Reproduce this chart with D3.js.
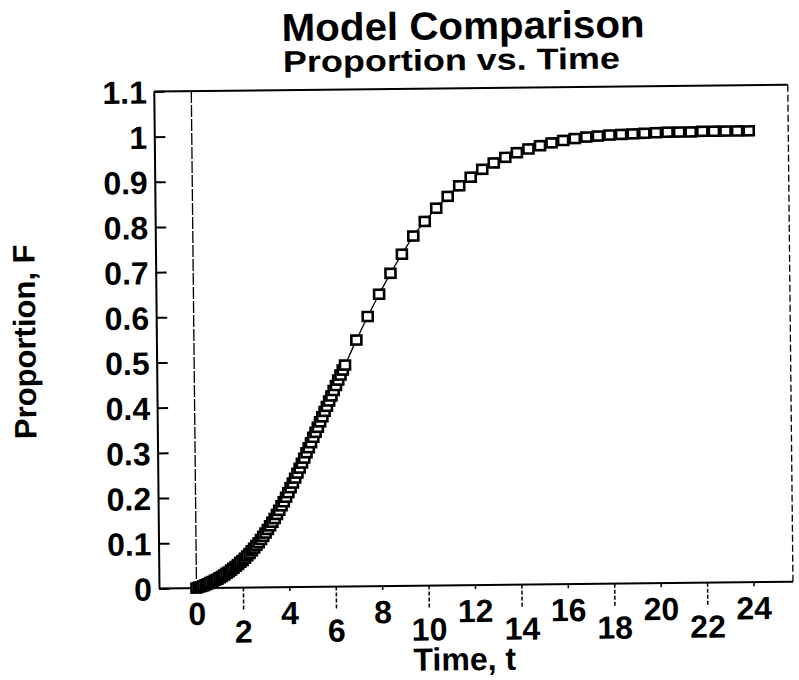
<!DOCTYPE html>
<html>
<head>
<meta charset="utf-8">
<script src="https://cdn.jsdelivr.net/npm/d3@7"></script>
<style>
  body { margin: 0; background: #fff; }
  text { font-family: "Liberation Sans", Arial, sans-serif; font-weight: bold; fill: #000; }
</style>
</head>
<body>
<div id="chart"></div>
<script>
// values
var denseTimes = [0, 0.1, 0.2, 0.3, 0.4, 0.5, 0.6, 0.7, 0.8, 0.9,
                  1, 1.1, 1.2, 1.3, 1.4, 1.5, 1.6, 1.7, 1.8, 1.9,
                  2, 2.1, 2.2, 2.3, 2.4, 2.5, 2.6, 2.7, 2.8, 2.9,
                  3, 3.1, 3.2, 3.3, 3.4, 3.5, 3.6, 3.7, 3.8, 3.9,
                  4, 4.1, 4.2, 4.3, 4.4, 4.5, 4.6, 4.7, 4.8, 4.9,
                  5, 5.1, 5.2, 5.3, 5.4, 5.5, 5.6, 5.7, 5.8, 5.9,
                  6, 6.1, 6.2, 6.3, 6.4, 6.5]
var denseProp = [0, 0.002, 0.003, 0.005, 0.007, 0.009, 0.012, 0.014, 0.017, 0.019,
                 0.022, 0.025, 0.028, 0.032, 0.035, 0.039, 0.043, 0.047, 0.051, 0.056,
                 0.060, 0.065, 0.070, 0.075, 0.081, 0.087, 0.093, 0.099, 0.106, 0.113,
                 0.120, 0.128, 0.136, 0.144, 0.152, 0.161, 0.170, 0.180, 0.189, 0.199,
                 0.209, 0.220, 0.230, 0.241, 0.252, 0.263, 0.274, 0.285, 0.297, 0.308,
                 0.319, 0.331, 0.342, 0.353, 0.365, 0.376, 0.388, 0.399, 0.411, 0.422,
                 0.434, 0.445, 0.457, 0.468, 0.479, 0.490]
var sparseTimes = [7, 7.5, 8, 8.5, 9, 9.5, 10, 10.5, 11, 11.5, 12, 12.5, 13, 13.5, 14, 14.5,
                   15, 15.5, 16, 16.5, 17, 17.5, 18, 18.5, 19, 19.5, 20, 20.5, 21, 21.5,
                   22, 22.5, 23, 23.5, 24]
var sparseProp = [0.545, 0.597, 0.646, 0.692, 0.734, 0.774, 0.806, 0.835, 0.861, 0.884,
                  0.903, 0.920, 0.934, 0.946, 0.956, 0.964, 0.971, 0.977, 0.982, 0.986,
                  0.989, 0.991, 0.993, 0.994, 0.995, 0.996, 0.997, 0.998, 0.998, 0.998,
                  0.999, 0.999, 0.999, 0.999, 0.999]
var xTicks = [0, 2, 4, 6, 8, 10, 12, 14, 16, 18, 20, 22, 24]
var yTicks = [0, 0.1, 0.2, 0.3, 0.4, 0.5, 0.6, 0.7, 0.8, 0.9, 1, 1.1]
var yTickLabels = ["0", "0.1", "0.2", "0.3", "0.4", "0.5", "0.6", "0.7", "0.8", "0.9", "1", "1.1"]

var width = 799, height = 680
var plotLeft = 159, plotRight = 793, plotTop = 91, plotBottom = 588

var points = denseTimes.map((t, i) => ({ t: t, f: denseProp[i] }))
  .concat(sparseTimes.map((t, i) => ({ t: t, f: sparseProp[i] })))

var x = d3.scaleLinear().domain([0, 24]).range([196.5, 753.5])
var y = d3.scaleLinear().domain([0, 1.1]).range([plotBottom, plotTop])

var svg = d3.select("#chart").append("svg")
  .attr("width", width)
  .attr("height", height)

// the scan is a little tilted
var g = svg.append("g").attr("transform", "rotate(-0.6, 200, 588)")

// titles
g.append("text")
  .attr("x", 469).attr("y", 42)
  .attr("text-anchor", "middle")
  .attr("font-size", 39)
  .attr("textLength", 363).attr("lengthAdjust", "spacingAndGlyphs")
  .text("Model Comparison")
g.append("text")
  .attr("x", 457).attr("y", 73)
  .attr("text-anchor", "middle")
  .attr("font-size", 30)
  .attr("textLength", 337).attr("lengthAdjust", "spacingAndGlyphs")
  .text("Proportion vs. Time")

// frame
g.append("line").call(lineAttr, plotLeft, plotTop, plotRight, plotTop).attr("stroke-width", 2)
g.append("line").call(lineAttr, plotRight, plotTop, plotRight, plotBottom)
  .attr("stroke-width", 1.3).attr("stroke-dasharray", "7,3")
g.append("line").call(lineAttr, x(0), plotTop, x(0), plotBottom)
  .attr("stroke-width", 1.3).attr("stroke-dasharray", "12,2")

// y axis
var yAxis = g.append("g")
  .attr("transform", `translate(${plotLeft},0)`)
  .call(d3.axisLeft(y).tickValues(yTicks).tickSize(-11).tickSizeOuter(0).tickPadding(7)
    .tickFormat((d, i) => yTickLabels[i]))
yAxis.selectAll("path, line").attr("stroke", "#000").attr("stroke-width", 2)
yAxis.selectAll("text").attr("font-size", 32).attr("font-family", null).attr("dy", "0.36em")

// x axis, labels alternate between two rows
var xAxis = g.append("g")
  .attr("transform", `translate(0,${plotBottom})`)
  .call(d3.axisBottom(x).tickValues(xTicks).tickSizeOuter(0))
xAxis.select("path").attr("d", `M${plotLeft},0H${plotRight}`).attr("stroke", "#000").attr("stroke-width", 2)
xAxis.selectAll(".tick line")
  .attr("stroke", "#000").attr("stroke-width", 1.5)
  .attr("y2", (d, i) => i % 2 ? 22 : 4)
  .attr("stroke-dasharray", (d, i) => i % 2 ? "4,2" : null)
xAxis.selectAll(".tick text")
  .attr("font-size", 32).attr("font-family", null)
  .attr("dy", null)
  .attr("y", (d, i) => i % 2 ? 55 : 37)

g.append("text")
  .attr("x", 464).attr("y", 673)
  .attr("text-anchor", "middle")
  .attr("font-size", 32)
  .text("Time, t")
g.append("text")
  .attr("transform", "translate(38,340) rotate(-90)")
  .attr("text-anchor", "middle")
  .attr("font-size", 31)
  .text("Proportion, F")

// model line and data markers
g.append("path")
  .datum(points)
  .attr("fill", "none")
  .attr("stroke", "#000")
  .attr("stroke-width", 1.3)
  .attr("d", d3.line().x(d => x(d.t)).y(d => y(d.f)).curve(d3.curveMonotoneX))

g.selectAll("rect.pt")
  .data(points)
  .enter()
  .append("rect")
  .attr("class", "pt")
  .attr("x", d => x(d.t) - 5)
  .attr("y", d => y(d.f) - 4.5)
  .attr("width", 10)
  .attr("height", 9)
  .attr("fill", "#fff")
  .attr("stroke", "#000")
  .attr("stroke-width", 2.6)

function lineAttr(selection, x1, y1, x2, y2) {
  selection
    .attr("x1", x1).attr("y1", y1)
    .attr("x2", x2).attr("y2", y2)
    .attr("stroke", "#000")
}
</script>
</body>
</html>
